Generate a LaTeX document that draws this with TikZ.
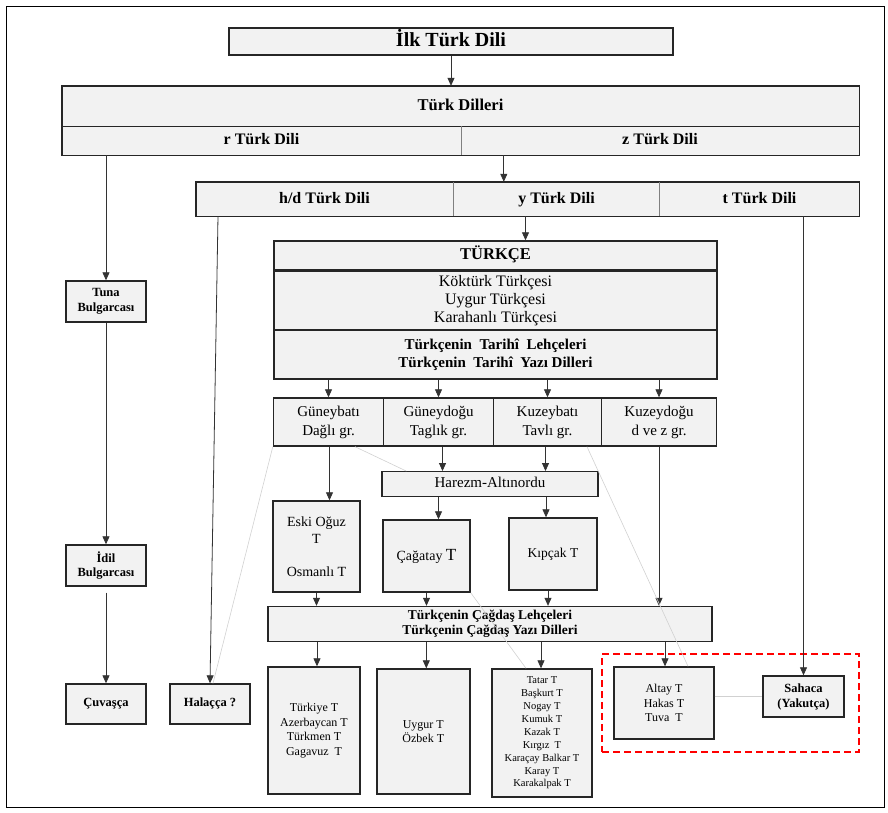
\documentclass[tikz,border=0pt]{standalone}
\usepackage{fontspec}
\setmainfont{Liberation Serif}
\usetikzlibrary{arrows.meta,calc}
\newcommand{\boyut}[2]{\fontsize{#1}{#2}\selectfont}
\begin{document}
\begin{tikzpicture}[x=1pt,y=-1pt,
 wh/.style 2 args={minimum width=#1pt,minimum height=#2pt},
 kutu/.style={draw=black!85,fill=black!5,line width=1.4pt,inner sep=0pt,align=center},
 hucre/.style={fill=black!5,inner sep=0pt,align=center},
 kenar/.style={draw=black!85,line width=1.4pt},
 ok/.style={draw=black!80,line width=.8pt,-{Triangle[length=8pt,width=7pt]}},
 soluk/.style={draw=black!18,line width=.6pt},
 aile/.style={draw=red,line width=1.4pt,dash pattern=on 7pt off 4pt,minimum width=257pt,minimum height=98pt}]
\useasboundingbox(0,0)rectangle(888,812);
\draw[line width=1pt](6,6)rectangle(884,807);
% ust kisim
\node[kutu,wh={444}{27},font=\bfseries\boyut{20}{24}](ilk)at(451,41.5){\strut İlk Türk Dili};
\node[hucre,wh={797}{40},font=\bfseries\boyut{16.5}{20}](turk)at(460.5,106){\strut Türk Dilleri};
\node[hucre,wh={399}{29},font=\bfseries\boyut{16}{20}](rdil)at(261.5,140.5){\strut r Türk Dili};\node[hucre,wh={398}{29},font=\bfseries\boyut{16}{20}](zdil)at(660,140.5){\strut z Türk Dili};
\draw[kenar](turk.north west)rectangle(zdil.south east);\draw[kenar](turk.south west)--(turk.south east);\draw[black!50,line width=.8pt](rdil.north east)--(rdil.south east);
\node[hucre,wh={257}{34},font=\bfseries\boyut{16}{20}](hd)at(324.5,199){\strut h/d Türk Dili};\node[hucre,wh={207}{34},font=\bfseries\boyut{16}{20}](ydil)at(556.5,199){\strut y Türk Dili};\node[hucre,wh={199}{34},font=\bfseries\boyut{16}{20}](tdil)at(759.5,199){\strut t Türk Dili};
\draw[kenar](hd.north west)rectangle(tdil.south east);\draw[black!50,line width=.8pt](hd.north east)--(hd.south east);\draw[black!50,line width=.8pt](tdil.north west)--(tdil.south west);
% turkce
\node[kutu,wh={443}{29},font=\bfseries\boyut{16.5}{20}](turkce)at(495.5,255.5){\strut TÜRKÇE};
\node[kutu,wh={443}{60},font=\boyut{16}{18}](donem)at(495.5,301){Köktürk Türkçesi\\Uygur Türkçesi\\Karahanlı Türkçesi};
\node[kutu,wh={443}{49},font=\bfseries\boyut{15}{18.5}](tarihi)at(495.5,354.5){Türkçenin\enspace Tarihî\enspace Lehçeleri\\Türkçenin\enspace Tarihî\enspace Yazı Dilleri};
\node[kutu,wh={110}{48},font=\boyut{15}{19}](gb)at(328.5,422){Güneybatı\\Dağlı gr.};\node[kutu,wh={110}{48},font=\boyut{15}{19}](gd)at(438.5,422){Güneydoğu\\Taglık gr.};
\node[kutu,wh={108}{48},font=\boyut{15}{19}](kb)at(547.5,422){Kuzeybatı\\Tavlı gr.};\node[kutu,wh={115}{48},font=\boyut{15}{19}](kd)at(659,422){Kuzeydoğu\\d ve z gr.};
\node[kutu,wh={216}{24.5},font=\boyut{15}{19}](harezm)at(490,484){\strut Harezm-Altınordu};
\node[kutu,wh={87}{91},font=\boyut{14}{16.6}](eski)at(316.5,546.5){Eski Oğuz\\T\\[16.6pt]Osmanlı T};
\node[kutu,wh={87}{72},font=\boyut{14}{17}](cagatay)at(426.5,556){Çağatay {\boyut{17}{17}T}};
\node[kutu,wh={88}{72},font=\boyut{13.5}{17}](kipcak)at(553,554){Kıpçak T};
\node[kutu,wh={444}{35},font=\bfseries\boyut{13.5}{15}](cagdas)at(490,624){Türkçenin Çağdaş Lehçeleri\\Türkçenin Çağdaş Yazı Dilleri};
\node[kutu,wh={92}{127},font=\boyut{12}{14.7}](turkiye)at(314,730.5){Türkiye T\\Azerbaycan T\\Türkmen T\\Gagavuz\ \ T};
\node[kutu,wh={93}{125},font=\boyut{12}{14.5}](uygur)at(423.3,731.5){Uygur T\\Özbek T};
\node[kutu,wh={100}{128},font=\boyut{10.5}{12.9}](tatar)at(542,733){Tatar T\\Başkurt T\\Nogay T\\Kumuk T\\Kazak T\\Kırgız\ \ T\\Karaçay Balkar T\\Karay T\\Karakalpak T};
\node[aile](yakut)at(730.5,703){};
\node[kutu,wh={100}{72},font=\boyut{12}{14.5}](altay)at(664,703){Altay T\\Hakas T\\Tuva\ \ T};
\node[kutu,wh={81}{41},font=\bfseries\boyut{12.5}{15}](sahaca)at(803.5,696.5){Sahaca\\(Yakutça)};
% sol sutun
\node[kutu,wh={80}{41},font=\bfseries\boyut{12.5}{14.5}](tuna)at(106,301.5){Tuna\\Bulgarcası};
\node[kutu,wh={80}{41},font=\bfseries\boyut{12.5}{14.5}](idil)at(106,565.5){İdil\\Bulgarcası};
\node[kutu,wh={80}{40},font=\bfseries\boyut{12.5}{14.5}](cuvasca)at(106,704){\strut Çuvaşça};
\node[kutu,wh={80}{40},font=\bfseries\boyut{12.5}{14.5}](halacca)at(210,704){\strut Halaçça ?};
% oklar
\draw[ok](ilk.south)--(ilk.south|-turk.north);
\draw[ok]([xshift=43pt]zdil.south west)--([xshift=51pt]ydil.north west);
\draw[ok]([xshift=-31pt]ydil.south)--([xshift=-31pt]ydil.south|-turkce.north);
\draw[ok](tuna.north|-rdil.south)--(tuna.north);\draw[ok](tuna)--(idil);\draw[ok]([yshift=-6pt]idil.south)--(cuvasca.north);
\draw[ok]([xshift=-106.5pt]hd.south)--(halacca.north);
\draw[ok](sahaca.north|-tdil.south)--(sahaca.north);
\foreach \g in {gb,gd,kb,kd}\draw[ok](\g|-tarihi.south)--(\g.north);
\draw[ok]([xshift=13pt]eski.north|-gb.south)--([xshift=13pt]eski.north);
\draw[ok]([xshift=4pt]gd.south)--([xshift=4pt]gd.south|-harezm.north);\draw[ok]([xshift=-2pt]kb.south)--([xshift=-2pt]kb.south|-harezm.north);
\draw[ok]([xshift=12pt]cagatay.north|-harezm.south)--([xshift=12pt]cagatay.north);\draw[ok]([xshift=-7pt]kipcak.north|-harezm.south)--([xshift=-7pt]kipcak.north);
\foreach \k in {eski,cagatay,kd}\draw[ok](\k.south)--(\k.south|-cagdas.north);
\draw[ok]([xshift=-5pt]kipcak.south)--([xshift=-5pt]kipcak.south|-cagdas.north);
\foreach \k/\s in {turkiye/3,uygur/3,tatar/-1,altay/1}\draw[ok]([xshift=\s pt]\k.north|-cagdas.south)--([xshift=\s pt]\k.north);
% soluk baglar
\draw[soluk](gb.south west)--([xshift=3pt]halacca.north);
\draw[soluk]([xshift=26.5pt]gb.south)--([xshift=25pt]harezm.north west);
\draw[soluk](cagatay.south east)--([xshift=-16pt]tatar.north);
\draw[soluk]([xshift=39.5pt]kb.south)--([xshift=24pt]altay.north);
\draw[soluk](altay.east|-sahaca.west)--(sahaca.west);
\end{tikzpicture}
\end{document}
